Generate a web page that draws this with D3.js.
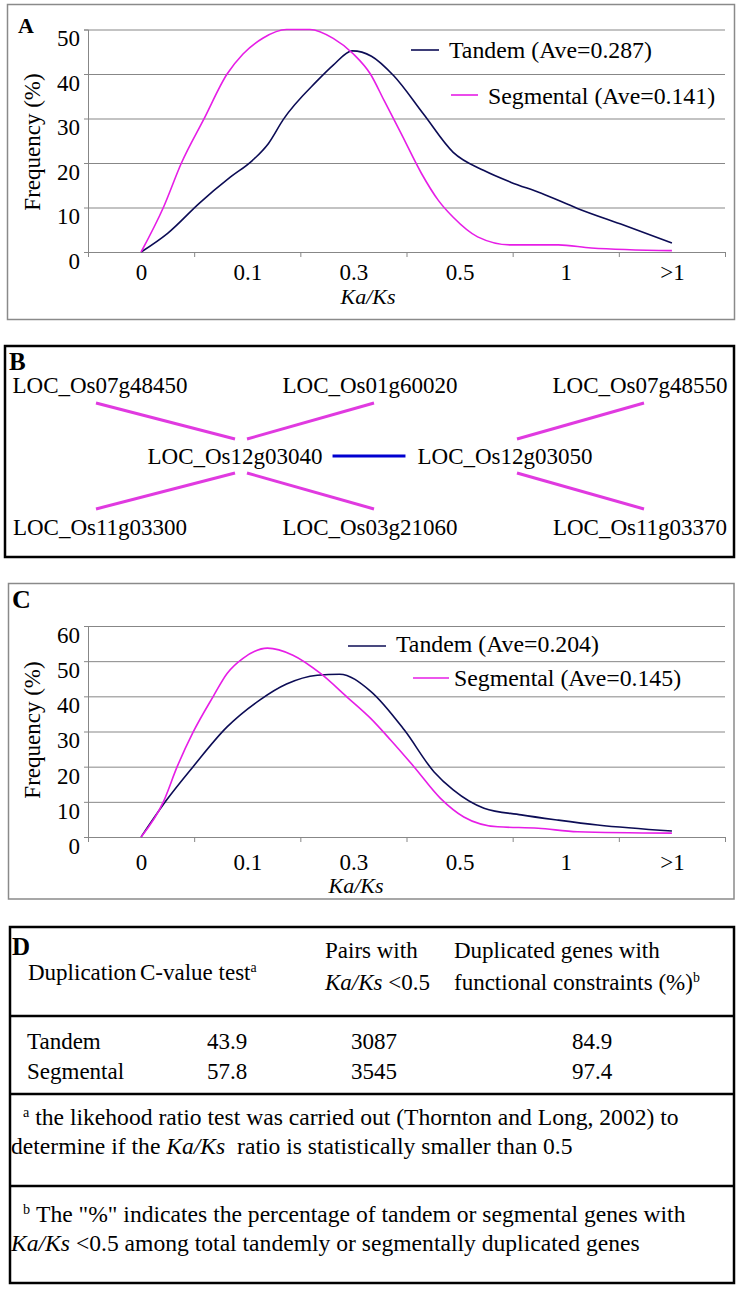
<!DOCTYPE html>
<html>
<head>
<meta charset="utf-8">
<script src="https://cdn.jsdelivr.net/npm/d3@7"></script>
<style>
  body { margin: 0; background: #fff; }
  svg { display: block; }
</style>
</head>
<body>
<svg id="fig" width="742" height="1290"></svg>
<script>
// x categories shared by both Ka/Ks plots
var categories = ["0", "0.1", "0.3", "0.5", "1", ">1"];
var ticksA = [0, 10, 20, 30, 40, 50];
var ticksC = [0, 10, 20, 30, 40, 50, 60];

// panel A: position along the category axis (0 = first category) and frequency (%)
var tandemAPos = [0, 0.25, 0.55, 0.84, 1.05, 1.2, 1.34, 1.66, 1.81, 1.99, 2.17, 2.38, 2.66, 2.94, 3.23, 3.48, 3.77, 4.11, 4.55, 5.0];
var tandemAVal = [0, 4.2, 11, 16.8, 20.6, 24.4, 29.8, 38.5, 42, 45.2, 44, 39.6, 31, 22.4, 18.3, 15.7, 13.2, 9.8, 6, 2];
var segmentalAPos = [0, 0.21, 0.38, 0.59, 0.81, 0.96, 1.15, 1.37, 1.59, 1.81, 2.0, 2.16, 2.29, 2.45, 2.64, 2.8, 2.94, 3.17, 3.48, 3.93, 4.24, 5.0];
var segmentalAVal = [0, 10, 20, 29.8, 40, 44.5, 48.1, 50, 50, 48, 44.5, 40, 34, 26.6, 17.7, 11.6, 7.8, 3.4, 1.6, 1.6, 0.9, 0.3];
var legendA = ["Tandem (Ave=0.287)", "Segmental (Ave=0.141)"];

// panel C
var tandemCPos = [0, 0.24, 0.49, 0.81, 1.12, 1.37, 1.66, 1.87, 2.16, 2.48, 2.76, 2.94, 3.23, 3.58, 3.93, 4.3, 5.0];
var tandemCVal = [0, 10.5, 20, 31.3, 39, 43.5, 46, 46.3, 41.5, 30.4, 18.5, 13.4, 8.2, 6.3, 4.8, 3.4, 1.7];
var segmentalCPos = [0, 0.21, 0.34, 0.49, 0.68, 0.81, 0.96, 1.19, 1.43, 1.69, 1.94, 2.16, 2.35, 2.57, 2.82, 3.04, 3.36, 3.74, 4.11, 5.0];
var segmentalCVal = [0, 10, 20, 29.8, 40, 46.5, 50.8, 53.7, 51.7, 46.5, 39.8, 33.8, 27.6, 20, 11, 5.7, 2.9, 2.5, 1.5, 1.1];
var legendC = ["Tandem (Ave=0.204)", "Segmental (Ave=0.145)"];

// panel B: genes and duplication links
var genes = ["LOC_Os07g48450", "LOC_Os01g60020", "LOC_Os07g48550", "LOC_Os12g03040",
             "LOC_Os12g03050", "LOC_Os11g03300", "LOC_Os03g21060", "LOC_Os11g03370"];
var geneLinks = [[3, 0, "segmental"], [3, 1, "segmental"], [3, 5, "segmental"], [3, 6, "segmental"],
                 [4, 2, "segmental"], [4, 7, "segmental"], [3, 4, "tandem"]];
// grid slot of each gene (column, row)
var geneCol = [0, 2, 4, 1, 3, 0, 2, 4];
var geneRow = [0, 0, 0, 1, 1, 2, 2, 2];

// panel D table
var dupTypes = ["Tandem", "Segmental"];
var cValues = ["43.9", "57.8"];
var pairsBelow = ["3087", "3545"];
var constrained = ["84.9", "97.4"];

var NAVY = "#0c0c55", MAGENTA = "#e61ee6";
var FONT = "Liberation Serif";
var svg = d3.select("#fig").style("font-family", FONT);

function frame(x, y, w, h, color, sw) {
  svg.append("rect").attr("x", x).attr("y", y).attr("width", w).attr("height", h)
    .attr("fill", "none").attr("stroke", color).attr("stroke-width", sw);
}

function letter(ch, x, y, size) {
  svg.append("text").attr("x", x).attr("y", y).attr("font-size", size)
    .attr("font-weight", "bold").style("font-family", FONT).text(ch);
}

// text made of parts: [string, style] with style "i" (italic) or "sup"
function richText(g, x, y, parts, size, anchor) {
  var t = g.append("text").attr("x", x).attr("y", y).attr("font-size", size)
    .attr("text-anchor", anchor || "start").style("font-family", FONT);
  parts.forEach(function (p) {
    var s = t.append("tspan").text(p[0]);
    if (p[1] === "i") s.attr("font-style", "italic");
    if (p[1] === "sup") s.attr("font-size", size * 0.6).attr("baseline-shift", "55%");
  });
  return t;
}

function plot(p) {
  var g = svg.append("g");
  var x = d3.scaleLinear().domain([-0.5, categories.length - 0.5]).range([88, 725]);
  var y = d3.scaleLinear().domain([0, p.max]).range([p.y0, p.yTop]);

  // gridlines
  g.append("g").attr("transform", "translate(88,0)")
    .call(d3.axisLeft(y).tickValues(p.ticks).tickSize(-(725 - 88)).tickFormat(""))
    .call(function (s) { s.select(".domain").remove(); })
    .selectAll("line").attr("stroke", "#878787");

  // y axis with labels (labels sit a little below their lines, as in the source)
  var ya = g.append("g").attr("transform", "translate(88,0)")
    .call(d3.axisLeft(y).tickValues(p.ticks).tickSize(4).tickPadding(4));
  ya.attr("font-size", 23).attr("font-family", null);
  ya.selectAll("path,line").attr("stroke", "#878787");
  ya.selectAll("text").attr("y", 9).attr("fill", "#000").style("font-family", FONT);

  // x axis: tick marks between categories
  var xa = g.append("g").attr("transform", "translate(0," + p.y0 + ")")
    .call(d3.axisBottom(x).tickValues(d3.range(-0.5, categories.length, 1)).tickSize(5).tickSizeOuter(0).tickFormat(""));
  xa.selectAll("path,line").attr("stroke", "#878787");

  var xl = g.append("g").attr("transform", "translate(0," + p.y0 + ")")
    .call(d3.axisBottom(x).tickValues(d3.range(categories.length))
      .tickFormat(function (i) { return categories[i]; }).tickSize(0).tickPadding(p.labelPad));
  xl.attr("font-size", 23).attr("font-family", null);
  xl.selectAll("text").attr("fill", "#000").style("font-family", FONT);
  xl.select(".domain").remove();

  // axis titles
  g.append("text").attr("transform", "translate(32," + p.yLabel + ") rotate(-90)")
    .attr("text-anchor", "middle").attr("dy", "0.35em").attr("font-size", 23)
    .style("font-family", FONT).text("Frequency (%)");
  g.append("text").attr("x", p.xTitleX).attr("y", p.xTitleY).attr("text-anchor", "middle")
    .attr("font-size", 22).attr("font-style", "italic").style("font-family", FONT).text("Ka/Ks");

  var line = d3.line().x(function (d) { return x(d[0]); }).y(function (d) { return y(d[1]); })
    .curve(d3.curveMonotoneX);

  p.series.forEach(function (s, i) {
    g.append("path").attr("d", line(d3.zip(s.pos, s.val))).attr("fill", "none")
      .attr("stroke", s.color).attr("stroke-width", 1.6);
    var L = p.legend[i];
    g.append("line").attr("x1", L.x1).attr("x2", L.x2).attr("y1", L.y).attr("y2", L.y)
      .attr("stroke", s.color).attr("stroke-width", 1.6);
    g.append("text").attr("x", L.tx).attr("y", L.ty).attr("font-size", 23.8)
      .style("font-family", FONT).text(p.labels[i]);
  });
}

// ---------- A ----------
frame(7.5, 4.5, 727, 315, "#8a8a8a", 1.5);
letter("A", 18, 33, 22);
plot({
  max: 50, ticks: ticksA, y0: 252, yTop: 29.5, labelPad: 12, yLabel: 142,
  xTitleX: 368, xTitleY: 304,
  series: [{ pos: tandemAPos, val: tandemAVal, color: NAVY },
           { pos: segmentalAPos, val: segmentalAVal, color: MAGENTA }],
  labels: legendA,
  legend: [{ x1: 411, x2: 439, y: 50, tx: 449, ty: 58 },
           { x1: 451, x2: 478, y: 95, tx: 488, ty: 104 }]
});

// ---------- B ----------
frame(5, 346, 729, 211, "#000", 2.5);
letter("B", 9, 370, 25);
var gb = svg.append("g");
var colX = d3.scaleLinear().domain([0, 4]).range([100, 640]);
var rowY = d3.scaleLinear().domain([0, 2]).range([385, 527]);
var nodes = genes.map(function (name, i) {
  return { name: name, x: colX(geneCol[i]), y: rowY(geneRow[i]) };
});
nodes.forEach(function (n) {
  var t = gb.append("text").attr("x", n.x).attr("y", n.y).attr("dy", "0.35em")
    .attr("text-anchor", "middle").attr("font-size", 23).style("font-family", FONT).text(n.name);
  n.w = t.node().getComputedTextLength();
});
geneLinks.forEach(function (l) {
  var a = nodes[l[0]], b = nodes[l[1]];
  var dx = Math.sign(b.x - a.x), dy = Math.sign(b.y - a.y);
  var x1, y1, x2, y2;
  if (dy === 0) {
    x1 = a.x + a.w / 2 + 10; x2 = b.x - b.w / 2 - 12; y1 = y2 = a.y;
  } else {
    x1 = a.x + dx * 6 + 6; y1 = a.y + dy * 17;
    x2 = b.x + dx * 4; y2 = b.y - dy * 18;
  }
  gb.append("line").attr("x1", x1).attr("y1", y1).attr("x2", x2).attr("y2", y2)
    .attr("stroke", l[2] === "tandem" ? "#0000d0" : "#e03ae0").attr("stroke-width", 3);
});

// ---------- C ----------
frame(8.5, 583.5, 725.5, 315.5, "#8a8a8a", 1.5);
letter("C", 12, 608, 26);
plot({
  max: 60, ticks: ticksC, y0: 837, yTop: 626, labelPad: 17, yLabel: 730,
  xTitleX: 356, xTitleY: 893,
  series: [{ pos: tandemCPos, val: tandemCVal, color: NAVY },
           { pos: segmentalCPos, val: segmentalCVal, color: MAGENTA }],
  labels: legendC,
  legend: [{ x1: 348, x2: 386, y: 646, tx: 396, ty: 652 },
           { x1: 413, x2: 449, y: 678, tx: 454, ty: 686 }]
});

// ---------- D ----------
frame(10, 927, 724, 356, "#000", 2.5);
letter("D", 12, 955, 25);
var gd = svg.append("g");
[1016, 1094, 1186].forEach(function (yy) {
  gd.append("line").attr("x1", 10).attr("x2", 734).attr("y1", yy).attr("y2", yy)
    .attr("stroke", "#000").attr("stroke-width", 2.5);
});
richText(gd, 28, 980, [["Duplication"]], 23);
richText(gd, 140, 980, [["C-value test"], ["a", "sup"]], 23);
richText(gd, 325, 958, [["Pairs with"]], 23);
richText(gd, 325, 990, [["Ka/Ks", "i"], [" <0.5"]], 23);
richText(gd, 454, 958, [["Duplicated genes with"]], 23);
richText(gd, 454, 990, [["functional constraints (%)"], ["b", "sup"]], 23);

var colCenters = d3.scaleOrdinal().domain(["c", "p", "f"]).range([227, 374, 592]);
dupTypes.forEach(function (d, i) {
  var yy = 1049 + i * 30;
  richText(gd, 27, yy, [[d]], 23);
  richText(gd, colCenters("c"), yy, [[cValues[i]]], 23, "middle");
  richText(gd, colCenters("p"), yy, [[pairsBelow[i]]], 23, "middle");
  richText(gd, colCenters("f"), yy, [[constrained[i]]], 23, "middle");
});

richText(gd, 23, 1125, [["a", "sup"], ["\u00a0the likehood ratio test was carried out (Thornton and Long, 2002) to"]], 23.6);
richText(gd, 11, 1154, [["determine if the "], ["Ka/Ks", "i"], ["\u00a0 ratio is statistically smaller than 0.5"]], 23.6);
richText(gd, 23, 1222, [["b", "sup"], ["\u00a0The \"%\" indicates the percentage of tandem or segmental genes with"]], 23.6);
richText(gd, 11, 1251, [["Ka/Ks", "i"], [" <0.5 among total tandemly or segmentally duplicated genes"]], 23.6);
</script>
</body>
</html>
